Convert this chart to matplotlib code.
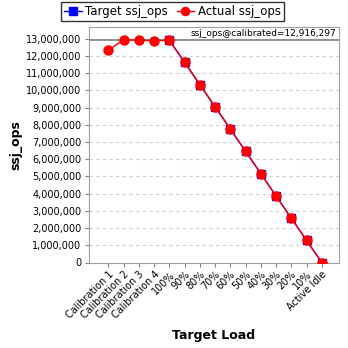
import matplotlib
matplotlib.use("Agg")
import matplotlib.pyplot as plt
from matplotlib.ticker import FuncFormatter

categories = ["Calibration 1", "Calibration 2", "Calibration 3", "Calibration 4",
              "100%", "90%", "80%", "70%", "60%", "50%", "40%", "30%", "20%", "10%",
              "Active Idle"]
target_ops = [None, None, None, None,
              12916297, 11624667, 10333038, 9041408, 7749778, 6458149,
              5166519, 3874889, 2583259, 1291630, 0]
actual_ops = [12330000, 12940000, 12920000, 12890000,
              12910000, 11650000, 10340000, 9060000, 7770000, 6470000,
              5170000, 3850000, 2570000, 1280000, 0]
calibrated = 12916297

fig = plt.figure(figsize=(3.48, 3.48), dpi=100)
ax = fig.add_axes([88.5 / 348, (348 - 262.5) / 348, (339 - 88.5) / 348, (262.5 - 26.7) / 348])

x = list(range(len(categories)))
tx = [i for i, v in zip(x, target_ops) if v is not None]
ty = [v for v in target_ops if v is not None]

ax.plot(tx, ty, color="#0000ff", marker="s", markersize=6, linewidth=1,
        label="Target ssj_ops", zorder=3)
ax.plot(x, actual_ops, color="#ff0000", marker="o", markersize=6.5, linewidth=1,
        label="Actual ssj_ops", zorder=4)

ax.axhline(calibrated, color="#808080", linewidth=1.2, zorder=2)
ax.text(14.95, calibrated + 120000, "ssj_ops@calibrated=12,916,297",
        ha="right", va="bottom", fontsize=6.5, color="#000000")

ax.set_xlim(-1.3, 15.13)
ax.set_ylim(0, 13.7e6)
ax.set_yticks(range(0, 13000001, 1000000))
ax.yaxis.set_major_formatter(FuncFormatter(lambda v, p: f"{int(v):,}"))
ax.set_xticks(x)
ax.set_xticklabels(categories, rotation=45, ha="right", rotation_mode="anchor",
                   fontsize=7)
ax.tick_params(axis="y", labelsize=7, length=3, color="#808080", pad=2)
ax.tick_params(axis="x", length=3, color="#808080", pad=2)

ax.grid(axis="y", color="#d0d0d0", linestyle=(0, (3, 3)), linewidth=0.8)
ax.set_axisbelow(True)
for s in ax.spines.values():
    s.set_color("#a0a0a0")

ax.set_xlabel("Target Load", fontsize=9, fontweight="bold", labelpad=6)
ax.set_ylabel("ssj_ops", fontsize=9, fontweight="bold", labelpad=3)

leg = fig.legend(loc="upper center", bbox_to_anchor=(172.5 / 348, 1 - 2 / 348),
                 ncol=2, fontsize=8.5, frameon=True, fancybox=False,
                 handlelength=1.5, handletextpad=0.3, columnspacing=0.7,
                 borderpad=0.25, borderaxespad=0, markerscale=0.9)
leg.get_frame().set_edgecolor("#000000")
leg.get_frame().set_linewidth(1)

fig.savefig("out.png", dpi=100)
